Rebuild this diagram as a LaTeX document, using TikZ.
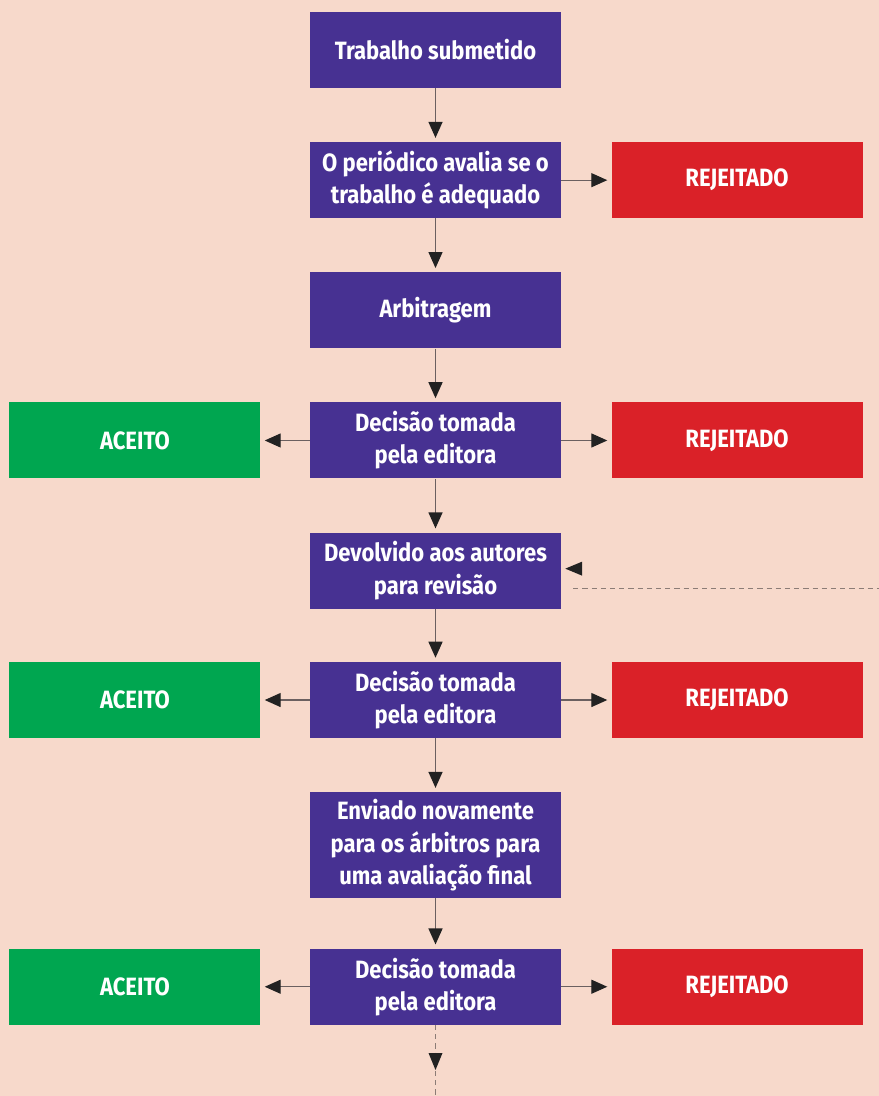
\documentclass[tikz,border=0pt]{standalone}
\usepackage{fontspec}
\setmainfont{Fira Sans}[FakeStretch=0.88]
\usetikzlibrary{positioning,arrows.meta,calc}

\definecolor{fundo}{HTML}{F7D9CB}
\definecolor{roxo}{HTML}{473192}
\definecolor{vermelho}{HTML}{DA2128}
\definecolor{verde}{HTML}{00A650}
\definecolor{linha}{HTML}{6B6060}
\definecolor{ponta}{HTML}{222222}
\definecolor{tracejado}{HTML}{8C7C76}

\tikzset{
  caixa/.style={rectangle, minimum width=6.275cm, minimum height=1.9cm, inner sep=2pt,
    text=white, font=\bfseries\fontsize{17.8}{22.8}\selectfont, align=center},
  etapa/.style={caixa, fill=roxo},
  rejeitado/.style={caixa, fill=vermelho},
  aceito/.style={caixa, fill=verde},
  seta/.style={draw=linha, line width=0.9pt, shorten >=0.1cm,
    -{Triangle[length=0.4cm, width=0.35cm, fill=ponta, color=ponta]}},
  tracos/.style={draw=tracejado, line width=0.9pt, dash pattern=on 0.13cm off 0.1cm}
}

\begin{document}
\begin{tikzpicture}
    \fill[fundo] (0,0) rectangle (21.975,-27.4);
    \useasboundingbox (0,0) rectangle (21.975,-27.4);

    % --- Coluna central ---
    \node[etapa] (submetido) at (10.8875,-1.25) {Trabalho submetido};
    \node[etapa, below=1.34cm of submetido] (avalia) {O periódico avalia se o\\trabalho é adequado};
    \node[etapa, below=1.34cm of avalia] (arbitragem) {Arbitragem};
    \node[etapa, below=1.34cm of arbitragem] (decisaoA) {Decisão tomada\\pela editora};
    \node[etapa, below=1.34cm of decisaoA] (revisao) {Devolvido aos autores\\para revisão};
    \node[etapa, below=1.32cm of revisao] (decisaoB) {Decisão tomada\\pela editora};
    \node[etapa, minimum height=2.65cm, below=1.34cm of decisaoB] (reenviado) {Enviado novamente\\para os árbitros para\\uma avaliação final};
    \node[etapa, below=1.25cm of reenviado] (decisaoC) {Decisão tomada\\pela editora};
    % ---

    % --- Caixas laterais ---
    \node[rejeitado, right=1.25cm of avalia] (rejA) {REJEITADO};
    \node[rejeitado, right=1.25cm of decisaoA] (rejB) {REJEITADO};
    \node[rejeitado, right=1.25cm of decisaoB] (rejC) {REJEITADO};
    \node[rejeitado, right=1.25cm of decisaoC] (rejD) {REJEITADO};
    \node[aceito, left=1.225cm of decisaoA] (aceA) {ACEITO};
    \node[aceito, left=1.225cm of decisaoB] (aceB) {ACEITO};
    \node[aceito, left=1.225cm of decisaoC] (aceC) {ACEITO};
    % ---

    % --- Setas ---
    \draw[seta] (submetido) -- (avalia);
    \draw[seta] (avalia) -- (arbitragem);
    \draw[seta] (arbitragem) -- (decisaoA);
    \draw[seta] (decisaoA) -- (revisao);
    \draw[seta] (revisao) -- (decisaoB);
    \draw[seta] (decisaoB) -- (reenviado);
    \draw[seta] (reenviado) -- (decisaoC);
    \draw[seta] (avalia) -- (rejA);
    \draw[seta] (decisaoA) -- (rejB);
    \draw[seta] (decisaoB) -- (rejC);
    \draw[seta] (decisaoC) -- (rejD);
    \draw[seta] (decisaoA) -- (aceA);
    \draw[seta] (decisaoB) -- (aceB);
    \draw[seta] (decisaoC) -- (aceC);
    % ---

    % --- Retorno tracejado ---
    \coordinate (retorno) at ($(revisao.east)+(0.3,-0.45)$);
    \draw[tracos] (retorno) -- (retorno -| 21.975,0);
    \fill[ponta] ($(revisao.east)+(0.1,0.05)$) -- ++(0.42,0.175) -- ++(0,-0.35) -- cycle;
    \coordinate (continua) at (decisaoC.south |- 0,-27.4);
    \draw[tracos] (decisaoC.south) -- (continua);
    \fill[ponta] (10.8875,-26.75) -- ++(-0.175,0.425) -- ++(0.35,0) -- cycle;
    % ---
\end{tikzpicture}
\end{document}
